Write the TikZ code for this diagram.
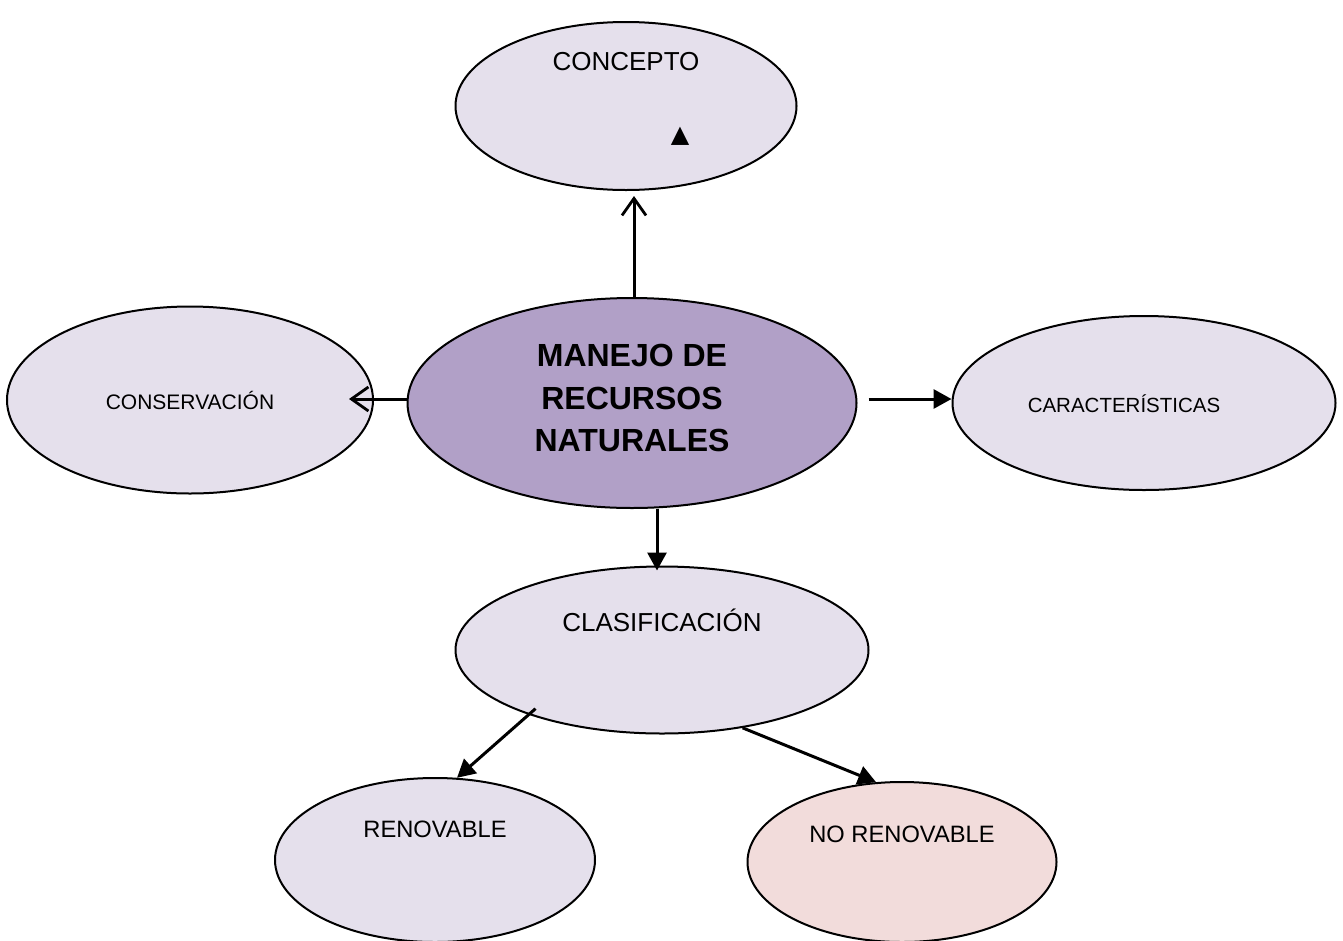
\documentclass[tikz,border=0pt]{standalone}
\usepackage{fontspec}
\setmainfont{Liberation Sans}
\newfontfamily\symfont{DejaVu Sans}
\usetikzlibrary{shapes.geometric,arrows.meta}
\definecolor{lila}{HTML}{E5E0EC}
\definecolor{lilaosc}{HTML}{B1A0C7}
\definecolor{rosa}{HTML}{F2DCDB}
\begin{document}
\begin{tikzpicture}[x=1pt,y=-1pt]
\tikzset{elip/.style={ellipse,draw=black,line width=2pt,fill=lila,inner sep=0pt},
  flecha/.style={line width=3pt,-{Triangle[length=18pt,width=19pt]}},
  abierta/.style={line width=3pt,-{Straight Barb[length=17pt,width=24pt,line width=2.8pt]}}}
\useasboundingbox (0,0) rectangle (1343,940);
\node[elip,minimum width=341pt,minimum height=168pt] (concepto) at (626,106) {};
\node[font=\fontsize{26}{30}\selectfont] (concepto-t) at (626,62) {CONCEPTO};
\node[font=\symfont\fontsize{24}{24}\selectfont,inner sep=0pt] (triangulo) at (680,136) {▲};
\node[elip,fill=lilaosc,minimum width=449pt,minimum height=210pt] (manejo) at (632,403) {};
\node[font=\bfseries\fontsize{32}{42.5}\selectfont,align=center] (manejo-t) at (632,398) {MANEJO DE\\RECURSOS\\NATURALES};
\node[elip,minimum width=366pt,minimum height=187pt] (conserv) at (190,400) {};
\node[font=\fontsize{21}{25}\selectfont] (conserv-t) at (190,400) {CONSERVACIÓN};
\node[elip,minimum width=383pt,minimum height=174pt] (caract) at (1144,403) {};
\node[font=\fontsize{20.5}{25}\selectfont] (caract-t) at (1124,404) {CARACTERÍSTICAS};
\node[elip,minimum width=413pt,minimum height=167pt] (clasif) at (662,650) {};
\node[font=\fontsize{26}{30}\selectfont] (clasif-t) at (662,620) {CLASIFICACIÓN};
\node[elip,minimum width=320pt,minimum height=164pt] (renov) at (435,860) {};
\node[font=\fontsize{23.7}{28}\selectfont] (renov-t) at (435,829) {RENOVABLE};
\node[elip,fill=rosa,minimum width=309pt,minimum height=160pt] (norenov) at (902,862) {};
\node[font=\fontsize{23.7}{28}\selectfont] (norenov-t) at (902,834) {NO RENOVABLE};
\draw[abierta] ([xshift=2pt]manejo.north) -- ([xshift=8pt,yshift=-5pt]concepto.south);
\draw[abierta] ([yshift=4pt]manejo.west) -- ([xshift=-25pt,yshift=4pt]conserv.east |- manejo.west);
\draw[flecha] ([xshift=11pt,yshift=4pt]manejo.east) -- ([yshift=4pt]caract.west);
\draw[flecha] ([xshift=-5pt]manejo.south -| clasif.north) -- ([xshift=-5pt,yshift=-5pt]clasif.north);
\draw[flecha] ([xshift=10pt,yshift=5pt]clasif.205) -- (renov.75);
\draw[flecha] (clasif.-44) -- (norenov.108);
\end{tikzpicture}
\end{document}
